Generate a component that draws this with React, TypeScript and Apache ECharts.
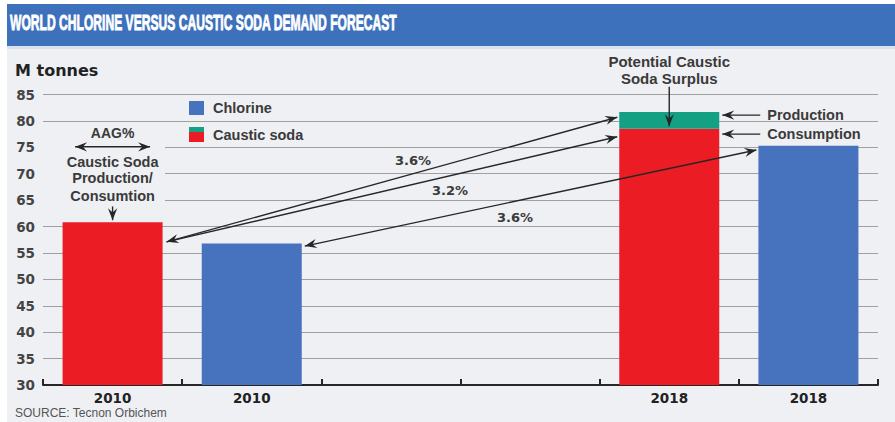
import React, { useEffect, useRef } from "react";
import * as echarts from "echarts";

// ---- data ----
const categories = ["2010", "2010", "", "", "2018", "2018"];
const causticSodaConsumption = [60.8, null, null, null, 78.5, null];
const causticSodaSurplus = [null, null, null, null, 3.2, null];
const chlorineDemand = [null, 56.8, null, null, null, 75.3];
const yMin = 30;
const yMax = 85;
const yStep = 5;
const growthRates = ["3.6%", "3.2%", "3.6%"];
// levels (M tonnes) where the annotation arrows meet the bars
const causticArrowStart2010 = 57.1;
const productionArrowEnd2018 = 80.7;
const consumptionArrowEnd2018 = 77.0;
const chlorineArrowStart2010 = 56.3;
const chlorineArrowEnd2018 = 74.5;
const productionLevel2018 = 81.1;
const consumptionLevel2018 = 77.5;

const TITLE = "WORLD CHLORINE VERSUS CAUSTIC SODA DEMAND FORECAST";
const RED = "#ec1c24";
const GREEN = "#14a083";
const BLUE = "#4672be";
const BG = "#eef0f4";
const TITLE_BG = "#3d71bc";
const INK = "#262626";
const TXT = "#3a3a3a";
const WORD_FONT = '"Liberation Sans", Arial, sans-serif';
const NUM_FONT = '"DejaVu Sans", sans-serif';

export default function App() {
  const ref = useRef<HTMLDivElement>(null);

  useEffect(() => {
    const chart = echarts.init(ref.current!, null, { renderer: "svg" });
    chart.setOption({
      animation: false,
      backgroundColor: BG,
      grid: { left: 36, right: 17, top: 90.5, bottom: 37, containLabel: false },
      xAxis: {
        type: "category",
        data: categories,
        boundaryGap: true,
        axisLine: { lineStyle: { color: INK, width: 2 } },
        axisTick: { show: true, inside: true, length: 6, interval: 0, lineStyle: { color: INK, width: 2 } },
        axisLabel: { interval: 0, margin: 6, color: "#222", fontFamily: NUM_FONT, fontWeight: "bold", fontSize: 13.5 },
        splitLine: { show: false },
      },
      yAxis: {
        type: "value",
        min: yMin,
        max: yMax,
        interval: yStep,
        axisLine: { show: false },
        axisTick: { show: false },
        axisLabel: { margin: 8, color: "#444", fontFamily: NUM_FONT, fontWeight: "bold", fontSize: 13.5 },
        splitLine: { lineStyle: { color: "#a0a0a0", width: 1.2 } },
      },
      series: [
        { type: "bar", name: "Caustic soda", stack: "cs", data: causticSodaConsumption, barWidth: 100, barGap: "-100%", itemStyle: { color: RED } },
        { type: "bar", name: "Surplus", stack: "cs", data: causticSodaSurplus, barWidth: 100, barGap: "-100%", itemStyle: { color: GREEN } },
        { type: "bar", name: "Chlorine", data: chlorineDemand, barWidth: 100, barGap: "-100%", itemStyle: { color: BLUE } },
      ],
    });

    const px = (i: number, v: number) => chart.convertToPixel({ gridIndex: 0 }, [i, v]) as number[];
    const half = 50;

    const head = (tip: number[], from: number[], L = 12, W = 4.6) => {
      const dx = tip[0] - from[0];
      const dy = tip[1] - from[1];
      const len = Math.hypot(dx, dy);
      const ux = dx / len, uy = dy / len;
      const nx = -uy, ny = ux;
      return {
        type: "polygon",
        z: 20,
        shape: {
          points: [
            [tip[0], tip[1]],
            [tip[0] - L * ux + W * nx, tip[1] - L * uy + W * ny],
            [tip[0] - 0.65 * L * ux, tip[1] - 0.65 * L * uy],
            [tip[0] - L * ux - W * nx, tip[1] - L * uy - W * ny],
          ],
        },
        style: { fill: INK },
      };
    };
    const arrow = (a: number[], b: number[], headA: boolean, headB: boolean) => {
      const els: any[] = [
        { type: "line", z: 20, shape: { x1: a[0], y1: a[1], x2: b[0], y2: b[1] }, style: { stroke: INK, lineWidth: 1.4 } },
      ];
      if (headA) els.push(head(a, b));
      if (headB) els.push(head(b, a));
      return els;
    };
    const text = (x: number, y: number, t: string, font: string, align = "center", fill = TXT, extra: any = {}, styleExtra: any = {}) => ({
      type: "text",
      z: 21,
      x,
      y,
      ...extra,
      style: { text: t, font, fill, align, verticalAlign: "middle", textAlign: align, textVerticalAlign: "middle", ...styleExtra },
    });

    const c0 = px(0, yMin)[0];
    const c1 = px(1, yMin)[0];
    const c4 = px(4, yMin)[0];
    const c5 = px(5, yMin)[0];
    const Y = (v: number) => px(0, v)[1];

    const wordFont = `bold 14.5px ${WORD_FONT}`;

    // title scaling (condensed)
    const titleFont = `bold 22px "Liberation Sans Narrow", ${WORD_FONT}`;
    const ctx = document.createElement("canvas").getContext("2d")!;
    ctx.font = titleFont;
    const tw = ctx.measureText(TITLE).width || 387;
    const sx = 387 / tw;

    const start2010 = [c0 + half + 4, Y(causticArrowStart2010)];
    const els: any[] = [
      // title bar
      { type: "rect", z: 1, shape: { x: 0, y: 0, width: 900, height: 42 }, style: { fill: TITLE_BG } },
      { type: "rect", z: 1, shape: { x: 0, y: 42, width: 900, height: 3 }, style: { fill: "#d9e2ef" } },
      text(3, 18.5, TITLE, titleFont, "left", "#ffffff", { scaleX: sx }, { stroke: "#ffffff", lineWidth: 0.9 }),
      text(8, 66, "M tonnes", `bold 16px ${NUM_FONT}`, "left", "#222"),
      text(8, 409, "SOURCE: Tecnon Orbichem", `12px ${WORD_FONT}`, "left", "#555"),
      // legend
      { type: "rect", z: 20, shape: { x: 182, y: 97, width: 15, height: 14 }, style: { fill: BLUE } },
      text(206, 104, "Chlorine", wordFont, "left"),
      { type: "rect", z: 20, shape: { x: 182, y: 123, width: 15, height: 5 }, style: { fill: GREEN } },
      { type: "rect", z: 20, shape: { x: 182, y: 128, width: 15, height: 10 }, style: { fill: RED } },
      text(206, 131, "Caustic soda", wordFont, "left"),
      // AAG annotation block
      { type: "rect", z: 5, shape: { x: 36, y: 123, width: 122, height: 79 }, style: { fill: BG } },
      text(c0, Y(77.8), "AAG%", `bold 14px ${WORD_FONT}`),
      ...arrow([c0 - 37.5, Y(75.1)], [c0 + 37.5, Y(75.1)], true, true),
      text(c0, Y(72.3), "Caustic Soda", wordFont),
      text(c0, Y(69.1), "Production/", wordFont),
      text(c0, Y(65.8), "Consumtion", wordFont),
      ...arrow([c0, Y(63.8)], [c0, Y(61.2)], false, true),
      // growth arrows
      ...arrow(start2010, [c4 - half - 2, Y(productionArrowEnd2018)], true, true),
      ...arrow(start2010, [c4 - half - 2, Y(consumptionArrowEnd2018)], false, true),
      ...arrow([c1 + half + 3, Y(chlorineArrowStart2010)], [c5 - half - 2, Y(chlorineArrowEnd2018)], true, true),
      text(406, 156.7, growthRates[0], `bold 13px ${NUM_FONT}`, "center", TXT),
      text(443, 186.7, growthRates[1], `bold 13px ${NUM_FONT}`, "center", TXT),
      text(508, 213, growthRates[2], `bold 13px ${NUM_FONT}`, "center", TXT),
      // 2018 annotations
      text(c4, 57.7, "Potential Caustic", `bold 15px ${WORD_FONT}`),
      text(c4, 74.3, "Soda Surplus", `bold 15px ${WORD_FONT}`),
      ...arrow([c4, Y(86.47)], [c4, Y(79.0)], false, true),
      ...arrow([c4 + half + 41, Y(productionLevel2018)], [c4 + half + 3, Y(productionLevel2018)], false, true),
      text(c4 + half + 48, Y(productionLevel2018), "Production", wordFont, "left"),
      ...arrow([c4 + half + 41, Y(consumptionLevel2018)], [c4 + half + 3, Y(consumptionLevel2018)], false, true),
      text(c4 + half + 48, Y(consumptionLevel2018), "Consumption", wordFont, "left"),
    ];

    chart.setOption({ graphic: { elements: els } });
    return () => chart.dispose();
  }, []);

  return (
    <div style={{ position: "fixed", left: 0, top: 0, width: 895, height: 422, background: "#ffffff" }}>
      <div ref={ref} style={{ position: "absolute", left: 7, top: 4, width: 888, height: 418 }} />
    </div>
  );
}
